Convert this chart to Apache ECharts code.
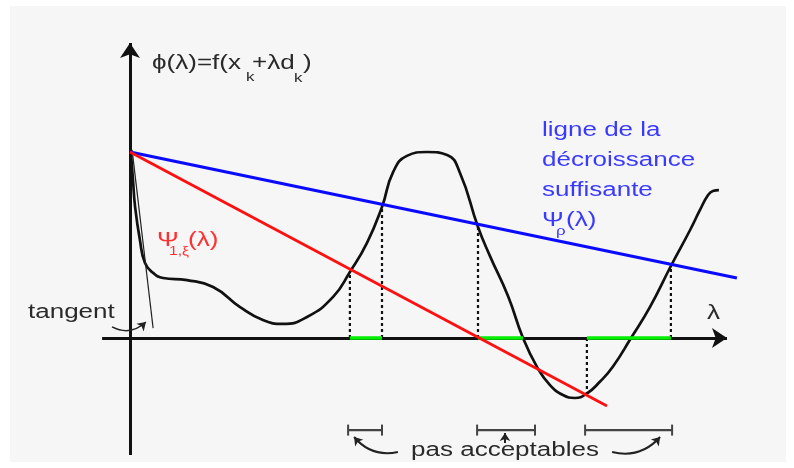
<!DOCTYPE html>
<html>
<head>
<meta charset="utf-8">
<script src="https://cdn.jsdelivr.net/npm/echarts@6/dist/echarts.min.js"></script>
<style>
  html,body{margin:0;padding:0;background:#fff;}
  #wrap{position:relative;width:794px;height:468px;}
  #bg{position:absolute;left:10px;top:6px;width:776px;height:456px;background:#f6f6f6;}
  #main{position:absolute;left:0;top:0;width:794px;height:468px;}
</style>
</head>
<body>
<div id="wrap"><div id="bg"></div><div id="main"></div></div>
<script>
// phi(lambda) curve
var curveLam = [0.03,0.1,0.17,0.33,0.5,0.77,1.1,1.9,2.77,3.67,4.43,5.1,5.9,6.77,7.33,7.9,8.4,8.77,9.23,9.9,
  10.57,11.0,11.6,12.0,12.6,13.1,13.57,14.0,14.43,14.83,15.23,15.67,16.1,16.7,17.33,18.03,18.67,19.0,19.27,19.43,19.63]
var curvePhi = [6.2,5.27,4.37,3.27,2.5,2.17,2.0,1.93,1.7,1.03,0.6,0.47,0.7,1.37,2.2,3.17,4.37,5.53,6.07,6.2,
  6.1,5.5,3.7,2.73,1.4,0,-0.97,-1.57,-1.9,-2.0,-1.85,-1.45,-0.95,0,1.03,2.4,3.6,4.27,4.77,4.9,4.93]

// axes (lambda, phi)
var axisXLam = [-0.93,19.9], axisXPhi = [0,0]
var axisYLam = [0,0], axisYPhi = [-3.9,9.83]

// droites psi
var blueLam = [0,20.23], bluePhi = [6.2,2.0]
var redLam = [0,15.9], redPhi = [6.2,-2.27]
var tangentLam = [0.07,0.77], tangentPhi = [6.27,0.33]

// pointilles verticaux
var stepLam = [7.33,8.4,11.6,15.23,18.03]
var stepPhi = [2.2,4.37,3.7,-1.87,2.4]

// intervalles acceptables (vert) et crochets
var greenFrom = [7.33,11.6,15.23], greenTo = [8.4,13.1,18.03]
var bracketFrom = [7.27,11.57,15.17], bracketTo = [8.4,13.5,18.07]
var bracketPhi = -3.07

var pasArrows = [
  [[8.93,-3.8],[7.47,-3.3],0.3],
  [[12.5,-3.5],[12.5,-3.17],0],
  [[16.07,-3.8],[17.67,-3.3],-0.3]
]
var tangentArrow = [[-0.6,0.37],[0.53,0.53],-0.35]

function zip(a,b){ return a.map((v,i)=>[v,b[i]]) }

var series = []
series.push({
  type:'lines', coordinateSystem:'cartesian2d',
  symbol:['none','arrow'], symbolSize:[12,15],
  lineStyle:{color:'#111',width:3,opacity:1},
  data:[{coords:zip(axisXLam,axisXPhi)},{coords:zip(axisYLam,axisYPhi)}],
  z:1
})
series.push({
  type:'line', data:zip(curveLam,curvePhi), smooth:0.5, showSymbol:false,
  lineStyle:{color:'#111',width:2.7}, z:3
})
series.push({
  type:'line', data:zip(tangentLam,tangentPhi), showSymbol:false,
  lineStyle:{color:'#222',width:1.2}, z:3
})
stepLam.forEach((l,i)=>{
  series.push({
    type:'line', data:[[l,0],[l,stepPhi[i]]], showSymbol:false,
    lineStyle:{color:'#111',width:2.2,type:[3,3]}, z:2
  })
})
greenFrom.forEach((l,i)=>{
  series.push({
    type:'line', data:[[l,0],[greenTo[i],0]], showSymbol:false,
    lineStyle:{color:'#00ee00',width:3.5}, z:4
  })
})
series.push({
  type:'line', data:zip(blueLam,bluePhi), showSymbol:false,
  lineStyle:{color:'#0a0aff',width:3.2}, z:5
})
series.push({
  type:'line', data:zip(redLam,redPhi), showSymbol:false,
  lineStyle:{color:'#ff1010',width:2.8}, z:5
})
bracketFrom.forEach((l,i)=>{
  series.push({
    type:'line', data:[[l,bracketPhi],[bracketTo[i],bracketPhi]],
    symbol:'rect', symbolSize:[2,11], showSymbol:true,
    itemStyle:{color:'#444'}, lineStyle:{color:'#444',width:2.2}, z:3
  })
})
series.push({
  type:'lines', coordinateSystem:'cartesian2d',
  symbol:['none','arrow'], symbolSize:8,
  lineStyle:{color:'#222',width:2,opacity:1},
  data:pasArrows.concat([tangentArrow]).map(a=>({coords:[a[0],a[1]],lineStyle:{curveness:a[2],width:a===tangentArrow?1.4:2,opacity:1}})),
  z:3
})

var SX = 1.3
function txt(x,y,text,size,color,align){
  return {type:'text', x:x, y:y, scaleX:SX, z:10,
    style:{text:text, font:size+'px "Liberation Sans", "DejaVu Sans", sans-serif', fill:color,
      textAlign:align||'left', textVerticalAlign:'middle'}}
}
var black = '#2a2a2a', blue = '#3a3aff', red = '#ff3030'

var chart = echarts.init(document.getElementById('main'))
chart.setOption({
  animation:false,
  grid:{left:100,right:44,top:40,bottom:13},
  xAxis:{type:'value',min:-1,max:20.6667,show:false},
  yAxis:{type:'value',min:-3.9,max:9.9333,show:false},
  series:series,
  graphic:[
    txt(152,63,'ϕ(λ)=f(x',20,black),
    txt(246,77,'k',13,black),
    txt(252,63,'+λd',20,black),
    txt(294,78,'k',13,black),
    txt(303,63,')',20,black),
    txt(542,130,'ligne de la',20,blue),
    txt(542,160,'décroissance',20,blue),
    txt(542,190,'suffisante',20,blue),
    txt(542,220,'Ψ',20,blue),
    txt(556,231,'ρ',13,blue),
    txt(566,220,'(λ)',20,blue),
    txt(157,240,'Ψ',20,red),
    txt(169,252,'1,ξ',12,red),
    txt(188,240,'(λ)',20,red),
    txt(28,312,'tangent',20,black),
    txt(707,313,'λ',20,black),
    txt(505,450,'pas acceptables',20,black,'center')
  ]
})
</script>
</body>
</html>
